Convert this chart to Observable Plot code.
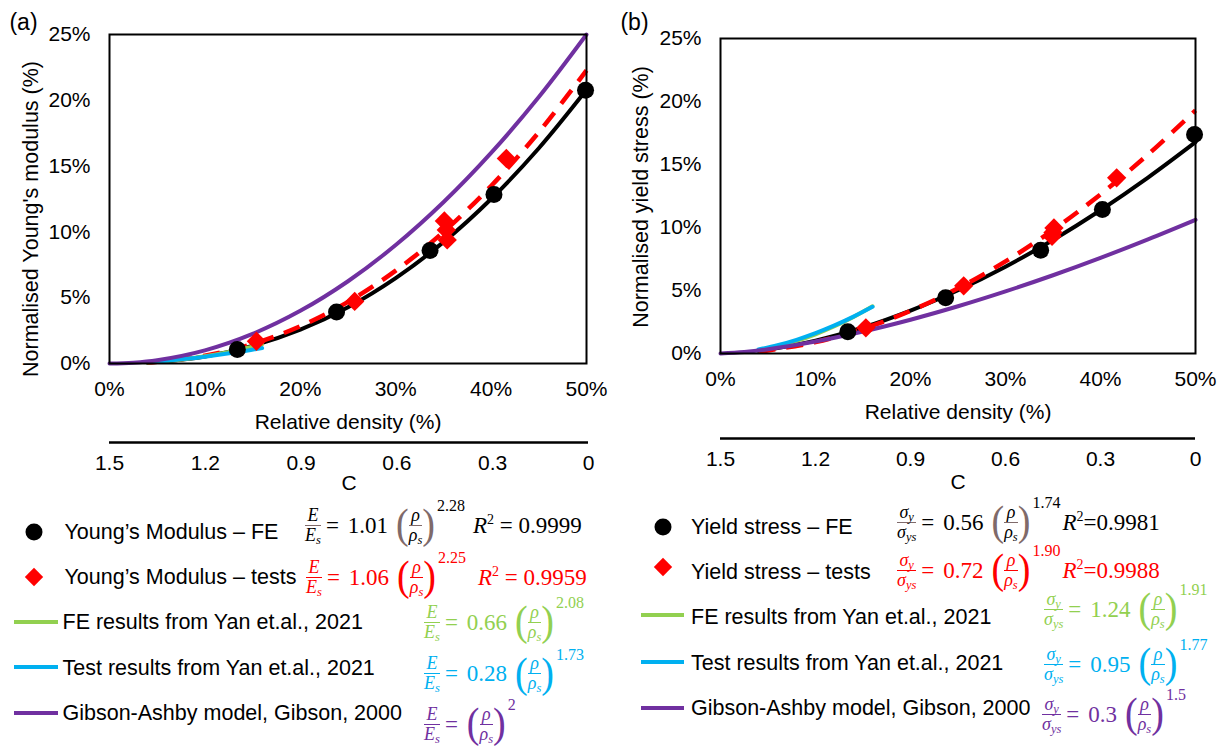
<!DOCTYPE html>
<html><head><meta charset="utf-8">
<script src="https://cdn.jsdelivr.net/npm/d3@7"></script>
<script src="https://cdn.jsdelivr.net/npm/@observablehq/plot@0.6"></script>
<style>
html,body{margin:0;padding:0;background:#fff;}
#root{position:relative;width:1221px;height:747px;overflow:hidden;font-family:"Liberation Sans",Arial,sans-serif;color:#000;}
.abs{position:absolute;}
.lg-text{position:absolute;font-size:21.5px;line-height:24px;white-space:nowrap;transform:translateY(-50%);}
.lg-line{position:absolute;height:4px;transform:translateY(-50%);}
.lg-dot{position:absolute;width:17px;height:17px;border-radius:50%;background:#000;transform:translate(-50%,-50%);}
.lg-dia{position:absolute;width:13px;height:13px;background:#f00;transform:translate(-50%,-50%) rotate(45deg);}
.eq{position:absolute;display:flex;align-items:center;height:50px;font-family:"Liberation Serif","DejaVu Serif",serif;font-size:23px;white-space:nowrap;line-height:1;}
.frac{display:inline-flex;flex-direction:column;text-align:center;font-style:italic;font-size:18px;line-height:19px;}
.frac .num{border-bottom:1.4px solid var(--pc);padding:0 1px;}
.frac sub{font-size:12.5px;vertical-align:-3px;line-height:0;}
.op{margin:0 9px 0 5px;}
.paren{font-size:38px;transform:scaleY(1.12);color:var(--pc);display:inline-block;margin-top:-4px;}
.sup{position:relative;top:-19px;font-size:16px;line-height:16px;margin-left:2px;}
.r2 i{font-style:italic;}
.r2 sup{font-size:14px;vertical-align:9px;line-height:0;}
</style>
</head><body>
<div id="root"></div>
<script>
// ---------- data ----------
const xTicks = [0, 0.1, 0.2, 0.3, 0.4, 0.5];
const yTicks = [0, 0.05, 0.1, 0.15, 0.2, 0.25];
const cTicks = [1.5, 1.2, 0.9, 0.6, 0.3, 0];

// panel (a): normalised Young's modulus
const aFEx = [0.134, 0.238, 0.336, 0.403, 0.499];
const aFEy = [0.0106, 0.0391, 0.0859, 0.1285, 0.2076];
const aTestX = [0.154, 0.257, 0.351, 0.353, 0.354, 0.416];
const aTestY = [0.0169, 0.0472, 0.1083, 0.1015, 0.0939, 0.1558];
const fitX = [0.04, 0.05, 0.1, 0.15, 0.2, 0.25, 0.3, 0.35, 0.4, 0.45, 0.5];
const aFitFEy = [0.00066, 0.00109, 0.0053, 0.0134, 0.0257, 0.0428, 0.0649, 0.0922, 0.1250, 0.1636, 0.2080];
const aFitTestY = [0.00076, 0.00125, 0.00596, 0.01484, 0.02836, 0.04684, 0.0706, 0.0999, 0.1349, 0.1758, 0.2228];
const yanX = [0.04, 0.06, 0.08, 0.1, 0.12, 0.14, 0.16];
const aYanFEy = [0.00082, 0.0019, 0.00345, 0.00549, 0.00802, 0.01106, 0.0146];
const aYanTestY = [0.00107, 0.00215, 0.00354, 0.00521, 0.00715, 0.00933, 0.01176];
const gibX = [0, 0.025, 0.05, 0.1, 0.15, 0.2, 0.25, 0.3, 0.35, 0.4, 0.45, 0.5];
const aGibY = [0, 0.000625, 0.0025, 0.01, 0.0225, 0.04, 0.0625, 0.09, 0.1225, 0.16, 0.2025, 0.25];

// panel (b): normalised yield stress
const bFEx = [0.134, 0.237, 0.337, 0.402, 0.499];
const bFEy = [0.0172, 0.0442, 0.0820, 0.1143, 0.1738];
const bTestX = [0.153, 0.256, 0.351, 0.350, 0.349, 0.417];
const bTestY = [0.0204, 0.0537, 0.0997, 0.0960, 0.0930, 0.1394];
const bFitFEy = [0.00207, 0.00305, 0.01019, 0.02063, 0.03404, 0.0502, 0.0689, 0.0901, 0.1137, 0.1396, 0.1677];
const bFitTestY = [0.00159, 0.00243, 0.00906, 0.01958, 0.03382, 0.0517, 0.0731, 0.0980, 0.1263, 0.1579, 0.1929];
const bYanFEy = [0.00265, 0.00575, 0.00996, 0.01525, 0.02161, 0.0290, 0.0375];
const bYanTestY = [0.00318, 0.00653, 0.01087, 0.01613, 0.02227, 0.02927, 0.03706];
const bGibY = [0, 0.00119, 0.00335, 0.00949, 0.01743, 0.02683, 0.0375, 0.0493, 0.0621, 0.0759, 0.0906, 0.1061];

// legend texts and equations
const legendA = ["Young’s Modulus – FE", "Young’s Modulus – tests", "FE results from Yan et.al., 2021", "Test results from Yan et.al., 2021", "Gibson-Ashby model, Gibson, 2000"];
const legendB = ["Yield stress – FE", "Yield stress – tests", "FE results from Yan et.al., 2021", "Test results from Yan et.al., 2021", "Gibson-Ashby model, Gibson, 2000"];
const eqCoefA = ["1.01", "1.06", "0.66", "0.28", ""];
const eqExpA = ["2.28", "2.25", "2.08", "1.73", "2"];
const eqR2A = ["R² = 0.9999", "R² = 0.9959", null, null, null];
const eqCoefB = ["0.56", "0.72", "1.24", "0.95", "0.3"];
const eqExpB = ["1.74", "1.90", "1.91", "1.77", "1.5"];
const eqR2B = ["R²=0.9981", "R²=0.9988", null, null, null];
const seriesColors = ["#000000", "#FF0000", "#92D050", "#00B0F0", "#7030A0"];

// ---------- drawing ----------
const root = document.getElementById("root");
const fmtPct = d3.format(".0%");
const pts = (xs, ys) => xs.map((x, i) => ({x, y: ys[i]}));
const baseStyle = {fontFamily: "Liberation Sans, Arial, sans-serif", fontSize: "21px", color: "#000", background: "transparent", overflow: "visible"};

function place(el, left, top) {
  const d = document.createElement("div");
  d.className = "abs"; d.style.left = left + "px"; d.style.top = top + "px";
  d.appendChild(el); root.appendChild(d);
}

function panel(c) {
  const lineMark = (xs, ys, color, extra = {}) =>
    Plot.line(pts(xs, ys), {x: "x", y: "y", stroke: color, strokeWidth: 4, curve: "catmull-rom", ...extra});
  return Plot.plot({
    width: c.width, height: c.height,
    marginLeft: c.ml, marginRight: c.mr, marginTop: c.mt, marginBottom: c.mb,
    style: baseStyle,
    x: {domain: [0, 0.5]},
    y: {domain: [0, 0.25]},
    marks: [
      lineMark(c.fitX, c.fitFE, seriesColors[0]),
      lineMark(c.fitX, c.fitTest, seriesColors[1], {strokeDasharray: "17,11", strokeLinecap: "butt", strokeWidth: 4.5}),
      lineMark(c.yanX, c.yanFE, seriesColors[2]),
      lineMark(c.yanX, c.yanTest, seriesColors[3]),
      lineMark(c.gibX, c.gib, seriesColors[4]),
      Plot.dot(pts(c.feX, c.feY), {x: "x", y: "y", r: 8.5, fill: seriesColors[0], symbol: "circle"}),
      Plot.dot(pts(c.teX, c.teY), {x: "x", y: "y", r: 8.7, fill: seriesColors[1], stroke: "none", symbol: "diamond2"}),
      Plot.frame({stroke: "#000", strokeWidth: 2}),
      Plot.axisX(xTicks, {tickFormat: fmtPct, tickSize: 0, tickPadding: 18, label: "Relative density (%)", labelAnchor: "center", labelArrow: "none", labelOffset: c.xLabelOffset}),
      Plot.axisY(yTicks, {tickFormat: fmtPct, tickSize: 0, tickPadding: 19, label: null}),
      Plot.text([c.yLabel], {frameAnchor: "left", textAnchor: "middle", lineAnchor: "middle", rotate: -90, dx: c.yLabelDx, dy: c.yLabelDy, fontSize: 21.5}),
      Plot.text([c.tag], {frameAnchor: "top-left", textAnchor: "middle", lineAnchor: "middle", dx: c.tagDx, dy: c.tagDy, fontSize: 23})
    ]
  });
}

function cAxis(c) {
  return Plot.plot({
    width: c.width, height: 62, marginTop: 0, marginBottom: 56, marginLeft: c.ml, marginRight: c.mr,
    style: baseStyle,
    x: {domain: [1.5, 0]},
    y: {domain: [0, 1], axis: null},
    marks: [
      Plot.ruleY([0], {stroke: "#000", strokeWidth: 2.5}),
      Plot.axisX(cTicks, {tickSize: 0, tickPadding: 12.5, tickFormat: d => String(d), label: "C", labelAnchor: "center", labelArrow: "none", labelOffset: c.labelOffset})
    ]
  });
}

place(panel({width: 610, height: 436, ml: 109, mr: 24, mt: 34, mb: 73,
  fitX, fitFE: aFitFEy, fitTest: aFitTestY, yanX, yanFE: aYanFEy, yanTest: aYanTestY, gibX, gib: aGibY,
  feX: aFEx, feY: aFEy, teX: aTestX, teY: aTestY,
  yLabel: "Normalised Young's modulus (%)", yLabelDx: -78, yLabelDy: 20,
  tag: "(a)", tagDx: -86, tagDy: -12, xLabelOffset: 65}), 0, 0);

place(panel({width: 611, height: 432, ml: 110, mr: 26, mt: 38, mb: 79,
  fitX, fitFE: bFitFEy, fitTest: bFitTestY, yanX, yanFE: bYanFEy, yanTest: bYanTestY, gibX, gib: bGibY,
  feX: bFEx, feY: bFEy, teX: bTestX, teY: bTestY,
  yLabel: "Normalised yield stress (%)", yLabelDx: -79, yLabelDy: 1,
  tag: "(b)", tagDx: -86, tagDy: -16, xLabelOffset: 65}), 610, 0);

place(cAxis({width: 610, ml: 109, mr: 22, labelOffset: 47}), 0, 436);
place(cAxis({width: 611, ml: 110, mr: 26, labelOffset: 50}), 610, 432);

// ---------- legends ----------
function frac(num, den, pc) {
  return `<span class="frac" style="--pc:${pc}"><span class="num">${num}</span><span class="den">${den}</span></span>`;
}
function equation(kind, coef, exp, r2, color, pc, r2gap) {
  const lhs = kind === "E" ? frac("E", "E<sub>s</sub>", pc) : frac("σ<sub>y</sub>", "σ<sub>ys</sub>", pc);
  const rho = frac("ρ", "ρ<sub>s</sub>", pc);
  let h = lhs + `<span class="op">=</span>`;
  if (coef) h += `<span class="coef" style="margin-right:8px">${coef}</span>`;
  h += `<span class="paren" style="--pc:${pc}">(</span>${rho}<span class="paren" style="--pc:${pc}">)</span><span class="sup">${exp}</span>`;
  if (r2) {
    const [a, b] = r2.split("²");
    h += `<span class="r2" style="margin-left:${r2gap}px"><i>${a}</i><sup>2</sup>${b.replace(/ /g, "&nbsp;")}</span>`;
  }
  return h;
}
function legend(cfg) {
  cfg.labels.forEach((lab, i) => {
    const color = seriesColors[i];
    const ty = cfg.textY[i];
    if (i === 0) {
      const m = document.createElement("div"); m.className = "lg-dot";
      m.style.left = cfg.markerX + "px"; m.style.top = cfg.markerY[0] + "px"; root.appendChild(m);
    } else if (i === 1) {
      const m = document.createElement("div"); m.className = "lg-dia";
      m.style.left = cfg.markerX + "px"; m.style.top = cfg.markerY[1] + "px"; root.appendChild(m);
    } else {
      const m = document.createElement("div"); m.className = "lg-line";
      m.style.left = cfg.lineX0 + "px"; m.style.width = (cfg.lineX1 - cfg.lineX0) + "px";
      m.style.top = cfg.markerY[i] + "px"; m.style.background = color; root.appendChild(m);
    }
    const t = document.createElement("div"); t.className = "lg-text";
    t.style.left = cfg.textX[i] + "px"; t.style.top = ty + "px"; t.textContent = lab; root.appendChild(t);
    const e = document.createElement("div"); e.className = "eq";
    e.style.left = cfg.eqX[i] + "px"; e.style.top = (cfg.eqBar[i] - 25) + "px"; e.style.color = color;
    const pc = i === 0 ? "#7f6a6a" : color;
    e.innerHTML = equation(cfg.kind, cfg.coef[i], cfg.exp[i], cfg.r2[i], color, pc, cfg.r2gap[i]);
    root.appendChild(e);
  });
}

legend({kind: "E", labels: legendA, coef: eqCoefA, exp: eqExpA, r2: eqR2A,
  markerX: 34, markerY: [531.5, 577, 622, 667, 712.5], lineX0: 14, lineX1: 58,
  textX: [64.5, 64.5, 62.5, 62.5, 62.5], textY: [531.5, 577, 622, 668, 712.5],
  eqX: [305, 306, 424, 424, 424], eqBar: [525, 577, 622, 673.5, 724], r2gap: [8, 12, 0, 0, 0]});

legend({kind: "S", labels: legendB, coef: eqCoefB, exp: eqExpB, r2: eqR2B,
  markerX: 663, markerY: [527, 567, 615, 662, 708], lineX0: 641, lineX1: 684,
  textX: [691, 691, 691, 691, 691], textY: [527, 572, 617, 663, 708],
  eqX: [897, 897, 1044, 1044, 1042], eqBar: [522, 570, 609, 664, 714], r2gap: [2, 2, 0, 0, 0]});
</script>
</body></html>
